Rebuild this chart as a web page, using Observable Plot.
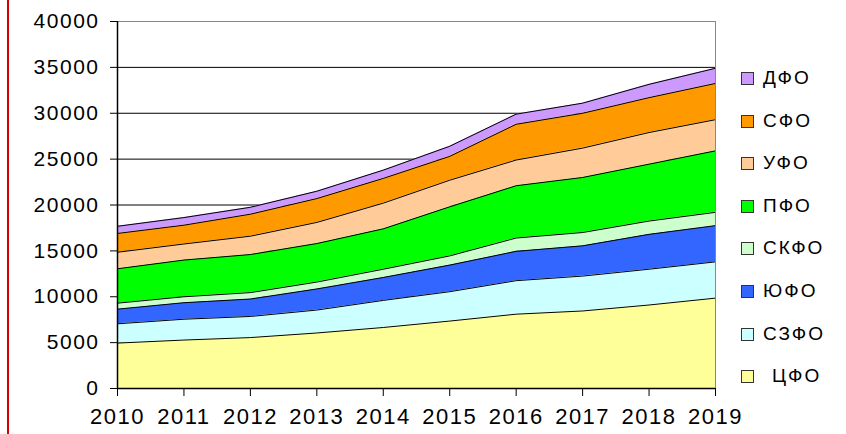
<!DOCTYPE html>
<html>
<head>
<meta charset="utf-8">
<script src="https://cdn.jsdelivr.net/npm/d3@7"></script>
<script src="https://cdn.jsdelivr.net/npm/@observablehq/plot@0.6"></script>
<style>
  html, body { margin: 0; padding: 0; background: #fff; }
  #wrap { position: relative; width: 846px; height: 434px; overflow: hidden; }
  #redline { position: absolute; left: 7px; top: 0; width: 2px; height: 434px; background: #d00000; }
  .lg { position: absolute; left: 741px; height: 13px; }
  .sw { position: absolute; left: 0; top: 0; width: 13px; height: 13px; box-sizing: border-box; border: 1px solid #333; }
  .lt { position: absolute; left: 22px; top: -5px; font-family: 'Liberation Sans', Arial, sans-serif; font-size: 19px; letter-spacing: 2px; line-height: 22px; color: #000; white-space: pre; }
</style>
</head>
<body>
<div id="wrap"><div id="redline"></div></div>
<script>
const years = [2010, 2011, 2012, 2013, 2014, 2015, 2016, 2017, 2018, 2019];
// bottom-up stacking order
const regions = ["ЦФО", "СЗФО", "ЮФО", "СКФО", "ПФО", "УФО", "СФО", "ДФО"];
const colors = ["#FFFF99", "#CCFFFF", "#3366FF", "#CCFFCC", "#00FF00", "#FFCC99", "#FF9900", "#CC99FF"];
const yTicks = [0, 5000, 10000, 15000, 20000, 25000, 30000, 35000, 40000];

const CFO  = [4950, 5280, 5550, 6050, 6650, 7350, 8100, 8450, 9100, 9850];
const SZFO = [2100, 2270, 2300, 2500, 2950, 3200, 3650, 3800, 3900, 3950];
const YUFO = [1600, 1800, 1900, 2300, 2500, 2900, 3200, 3300, 3800, 3950];
const SKFO = [650, 650, 700, 750, 900, 1000, 1450, 1450, 1450, 1450];
const PFO  = [3750, 4000, 4150, 4200, 4400, 5350, 5700, 6000, 6200, 6700];
const UFO  = [1800, 1750, 2000, 2300, 2800, 2900, 2800, 3200, 3450, 3400];
const SFO  = [2050, 2050, 2400, 2600, 2700, 2600, 3900, 3800, 3800, 3950];
const DFO  = [780, 830, 750, 800, 900, 1100, 1100, 1100, 1450, 1650];

const series = [CFO, SZFO, YUFO, SKFO, PFO, UFO, SFO, DFO];
const data = years.flatMap((yr, i) => regions.map((r, j) => ({year: yr, region: r, value: series[j][i]})));

const chart = Plot.plot({
  width: 846,
  height: 434,
  marginLeft: 117,
  marginRight: 131,
  marginTop: 21,
  marginBottom: 46,
  style: {fontFamily: "'Liberation Sans', Arial, sans-serif", fontSize: "21px", color: "#000", background: "transparent", letterSpacing: "1.5px"},
  x: {domain: [2010, 2019], axis: null},
  y: {domain: [0, 40000], axis: null},
  color: {domain: regions, range: colors},
  marks: [
    Plot.ruleY(yTicks.filter(d => d > 0 && d < 40000), {stroke: "#000", strokeWidth: 1}),
    Plot.ruleY([40000], {stroke: "#888", strokeWidth: 1}),
    Plot.areaY(data, {x: "year", y: "value", z: "region", fill: "region", order: regions}),
    Plot.lineY(data, Plot.stackY2({x: "year", y: "value", z: "region", order: regions, stroke: "#000", strokeWidth: 1})),
    Plot.ruleX([2019], {stroke: "#888", strokeWidth: 1}),
    Plot.ruleX([2010], {stroke: "#000", strokeWidth: 1.5}),
    Plot.ruleY([0], {stroke: "#000", strokeWidth: 1.5}),
    Plot.axisY({ticks: yTicks, tickSize: 7, tickPadding: 11, tickFormat: d => String(d), stroke: "#000", fontSize: 21, label: null}),
    Plot.axisX({ticks: years, tickSize: 8, tickPadding: 12, tickFormat: d => String(d), stroke: "#000", fontSize: 22, label: null})
  ]
});

const wrap = document.getElementById("wrap");
wrap.appendChild(chart);
chart.style.position = "absolute";
chart.style.left = "0";
chart.style.top = "0";

// legend (top to bottom: reverse of stacking order)
const legendCenters0 = 78.5, legendStep = 42.6;
regions.slice().reverse().forEach((r, i) => {
  const j = regions.indexOf(r);
  const row = document.createElement("div");
  row.className = "lg";
  row.style.top = (legendCenters0 + i * legendStep - 6.5) + "px";
  const sw = document.createElement("div");
  sw.className = "sw";
  sw.style.background = colors[j];
  const t = document.createElement("div");
  t.className = "lt";
  t.textContent = r;
  if (r === "ЦФО") t.style.left = "31px";
  row.appendChild(sw);
  row.appendChild(t);
  wrap.appendChild(row);
});
</script>
</body>
</html>
